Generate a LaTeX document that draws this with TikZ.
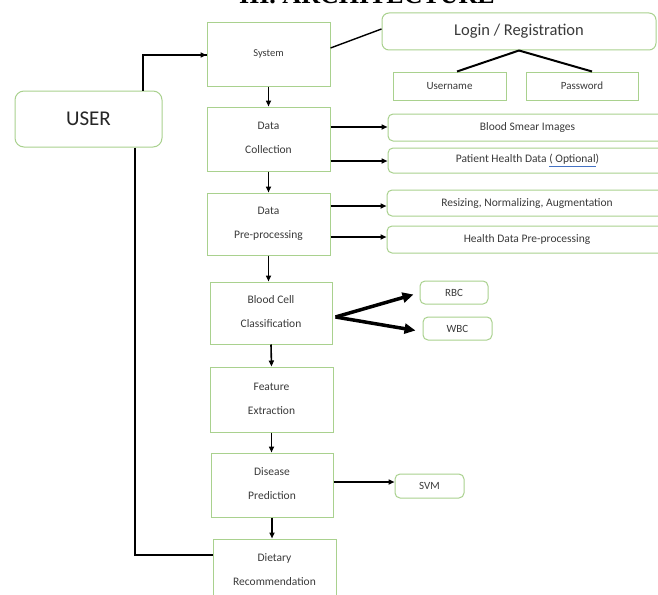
\documentclass[tikz,border=0pt]{standalone}
\usepackage{fontspec}
\setmainfont{Carlito}
\newfontfamily\titlefont{Liberation Serif}
\usetikzlibrary{arrows.meta,calc}
\definecolor{boxgreen}{HTML}{A9D18E}
\definecolor{txt}{HTML}{3A3A3A}
\definecolor{ulblue}{HTML}{4472C4}
\newcommand\twolines[2]{\raisebox{3pt}{\begin{tabular}{@{}c@{}}#1\\[11pt]#2\end{tabular}}}
\begin{document}
\begin{tikzpicture}[x=1pt,y=-1pt,
  box/.style={draw=boxgreen,line width=1pt,text=txt,font=\fontsize{11.5}{13}\selectfont,align=center,inner sep=0pt},
  rbox/.style={box,rounded corners=5pt},
  flow/.style={line width=1.6pt,-{Triangle[length=6pt,width=5pt]}},
  side/.style={line width=2pt,-{Triangle[length=6pt,width=5pt]}},
  big/.style={line width=3.5pt,-{Triangle[length=11pt,width=10pt]}},
  userline/.style={line width=2.6pt},
  plain/.style={line width=1.4pt}]
\useasboundingbox (0,0) rectangle (658,594);
\fill[white] (0,0) rectangle (658,594);
\clip (0,0) rectangle (658,594);
% title
\node[anchor=base,font=\titlefont\bfseries\fontsize{26}{28}\selectfont] (title) at (367,4) {III. ARCHITECTURE};
% nodes
\node[box,minimum width=123pt,minimum height=63pt,font=\fontsize{10.5}{12}\selectfont] (system) at (268.5,54.5) {\raisebox{3pt}{System}};
\node[rbox,rounded corners=7pt,minimum width=274pt,minimum height=37pt,font=\fontsize{16.5}{18}\selectfont] (login) at (519,31.5) {Login / Registration};
\node[box,minimum width=113pt,minimum height=28pt,font=\fontsize{11}{13}\selectfont] (user name) at (449.5,86) {Username};
\node[box,minimum width=112pt,minimum height=28pt,font=\fontsize{11}{13}\selectfont] (pass) at (582,86) {Password};
\node[rbox,rounded corners=9pt,minimum width=147pt,minimum height=56pt,font=\fontsize{21}{24}\selectfont,text=black!85] (user) at (88.5,119) {USER};
\node[box,minimum width=123pt,minimum height=64pt] (dc) at (268.5,139) {\twolines{Data}{Collection}};
\node[rbox,minimum width=279pt,minimum height=27pt] (bsi) at (527.5,127.5) {Blood Smear Images};
\node[rbox,minimum width=279pt,minimum height=25pt] (phd) at (527.5,160.5) {Patient Health Data {\color{ulblue}\underline{\color{txt}( Optional}})};
\node[box,minimum width=123pt,minimum height=62pt] (dp) at (268.5,224) {\twolines{Data}{Pre-processing}};
\node[rbox,minimum width=280pt,minimum height=26pt] (rna) at (527,203) {Resizing, Normalizing, Augmentation};
\node[rbox,minimum width=280pt,minimum height=27pt] (hdp) at (527,239.5) {Health Data Pre-processing};
\node[box,minimum width=122pt,minimum height=62pt] (bcc) at (271,313) {\twolines{Blood Cell}{Classification}};
\node[rbox,minimum width=68pt,minimum height=23pt,font=\fontsize{11}{13}\selectfont] (rbc) at (454,292.5) {RBC};
\node[rbox,minimum width=69pt,minimum height=23pt,font=\fontsize{11}{13}\selectfont] (wbc) at (457.5,328.5) {WBC};
\node[box,minimum width=123pt,minimum height=65pt] (fe) at (271.5,399.5) {\twolines{Feature}{Extraction}};
\node[box,minimum width=122pt,minimum height=64pt] (dpred) at (272,485) {\twolines{Disease}{Prediction}};
\node[rbox,minimum width=69pt,minimum height=24pt,font=\fontsize{11}{13}\selectfont] (svm) at (429.5,486) {SVM};
\node[box,minimum width=123pt,minimum height=64pt] (diet) at (274.5,571) {\twolines{Dietary}{Recommendation}};
% connectors
\draw[userline] (user.north -| 143,0) |- (system.west |- 0,55);
\draw[line width=2pt,-{Triangle[length=6pt,width=5pt]}] (150,55) -- (system.west |- 0,55);
\draw[userline] (user.south -| 135,0) |- (diet.west |- 0,555);
\draw[plain] (system.east |- 0,48) -- (login.west |- 0,29);
\coordinate (lb) at (login.south);
\draw[line width=2pt] (lb) -- (user name.north -| 457,0);
\draw[line width=2pt] (lb) -- (pass.north -| 592,0);
\draw[flow] (system.south) -- (dc.north);
\draw[side] (dc.east |- 0,127) -- (bsi.west |- 0,127);
\draw[side] (dc.east |- 0,161) -- (phd.west |- 0,161);
\draw[flow] (dc.south) -- (dp.north -| dc.south);
\draw[side] (dp.east |- 0,206) -- (rna.west |- 0,206);
\draw[side] (dp.east |- 0,237) -- (hdp.west |- 0,237);
\draw[flow] (dp.south) -- (bcc.north -| dp.south);
\draw[big] ($(bcc.east)+(3,4)$) -- ($(rbc.west)+(-6,2)$);
\draw[big] ($(bcc.east)+(3,4)$) -- ($(wbc.west)+(-7,2)$);
\draw[flow] (bcc.south) -- (fe.north);
\draw[flow] (fe.south) -- (dpred.north -| fe.south);
\draw[side] (dpred.east |- 0,482) -- (svm.west |- 0,482);
\draw[flow] (dpred.south) -- (diet.north -| dpred.south);
\end{tikzpicture}
\end{document}
